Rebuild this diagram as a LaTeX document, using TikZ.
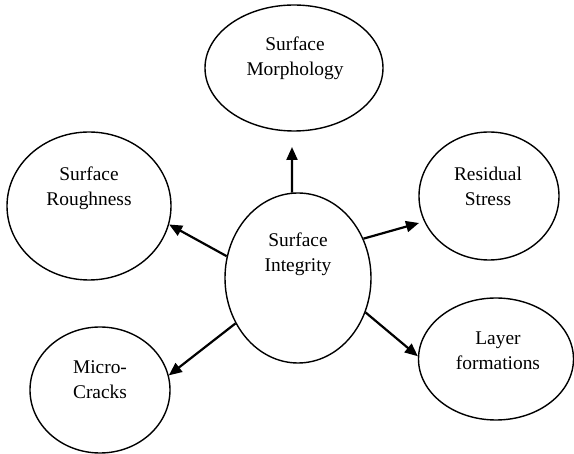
\documentclass[tikz,border=0pt]{standalone}
\usepackage{fontspec}
\setmainfont{Liberation Serif}
\usetikzlibrary{shapes.geometric,arrows.meta}
\begin{document}
\begin{tikzpicture}[x=1pt,y=-1pt,
  bubble/.style={ellipse,draw,line width=1.4pt,inner sep=0pt},
  lbl/.style={align=center,font=\fontsize{19.4}{25}\selectfont,inner sep=0pt},
  arr/.style={line width=2.2pt,-{Triangle[length=13pt,width=11pt]}}]
\useasboundingbox (0,0) rectangle (574,454);
% ellipses
\node[bubble,minimum width=146pt,minimum height=170pt] (si) at (298,278) {};
\node[bubble,minimum width=178pt,minimum height=126pt] (sm) at (294,68) {};
\node[bubble,minimum width=164pt,minimum height=148pt] (sr) at (89,206) {};
\node[bubble,minimum width=140pt,minimum height=128pt] (rs) at (489,196) {};
\node[bubble,minimum width=140pt,minimum height=126pt] (mc) at (100,390) {};
\node[bubble,minimum width=155pt,minimum height=122pt] (lf) at (496,359) {};
% labels
\node[lbl] (tsi) at (298,254) {Surface\\Integrity};
\node[lbl] (tsm) at (295,58) {Surface\\Morphology};
\node[lbl] (tsr) at (89,188) {Surface\\Roughness};
\node[lbl] (trs) at (488,186) {Residual\\Stress};
\node[lbl] (tmc) at (100,380) {Micro-\\Cracks};
\node[lbl] (tlf) at (498,351) {Layer\\formations};
% arrow tips
\coordinate (tipm) at (292,147);
\coordinate (tipr) at (419,223);
% arrows
\draw[arr] (si.94) -- (tipm);
\draw[arr] (si.163) -- (sr.-13);
\draw[arr] (si.31) -- (tipr);
\draw[arr] (si.216) -- (mc.12);
\draw[arr] (si.333) -- (lf.178);
\end{tikzpicture}
\end{document}
